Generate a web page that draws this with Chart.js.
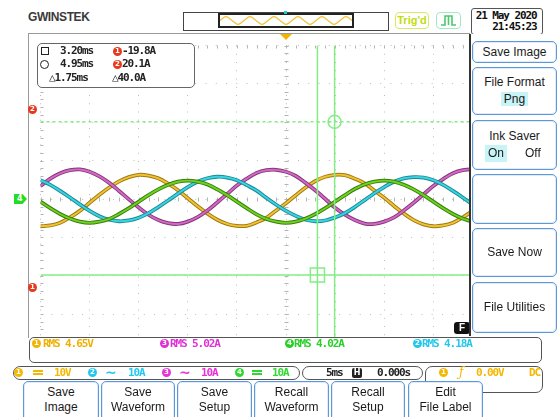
<!DOCTYPE html>
<html>
<head>
<meta charset="utf-8">
<script src="https://cdn.jsdelivr.net/npm/chart.js@4.4.0/dist/chart.umd.min.js"></script>
<style>
  body { margin:0; width:557px; height:417px; background:#fff; position:relative; overflow:hidden;
         font-family:"Liberation Sans", Arial, sans-serif; }
  .a { position:absolute; }
  .t { position:absolute; white-space:nowrap; line-height:14px; }
  .m { font-family:"DejaVu Sans Mono", monospace; font-size:11px; letter-spacing:-1.1px; font-weight:bold; }
  .dot { position:absolute; width:9px; height:9px; border-radius:50%; color:#fff; text-align:center;
         font:bold 7px/9px "DejaVu Sans", sans-serif; }
  .btn { position:absolute; box-sizing:border-box; border:1.5px solid #5b98dc; border-radius:5px; background:#fff;
         box-shadow: inset 0 0 0 1px #e2eaf4; font-size:12px; color:#1a1a1a; text-align:center;
         display:flex; flex-direction:column; align-items:center; justify-content:center; line-height:17px; }
  .low { justify-content:flex-start; padding-top:3px; line-height:15px; border-radius:5px 5px 0 0; }
  .hl { background:#c8f3f7; padding:0 3px; }
  .seg { position:absolute; box-sizing:border-box; border:1.2px solid #555; border-radius:7px; }
  .dc { position:absolute; width:10px; height:1px; border-top:2px solid; border-bottom:2px dashed; }
</style>
</head>
<body>

<!-- barra de cima -->
<div class="t" style="left:28px;top:10px;font:bold 12px 'Liberation Sans',sans-serif;letter-spacing:-0.4px;color:#3a3a3a;">GWINSTEK</div>
<div class="a" style="left:183px;top:12px;width:204px;height:17px;border:1px solid #444;"></div>
<div class="a" style="left:218px;top:13px;width:132px;height:11px;border:2px solid #222;background:#fff;">
  <canvas id="overview" width="132" height="11"></canvas>
</div>
<div class="a" style="left:284px;top:11px;width:3px;height:3px;background:#20c8e0;"></div>
<div class="a" style="left:395px;top:12px;width:32px;height:15px;border:1.5px solid #d6ec62;border-radius:4px;
     color:#c2dc10;font:bold 11px/15px 'Liberation Sans',sans-serif;text-align:center;">Trig'd</div>
<div class="a" style="left:436px;top:12px;width:23px;height:15px;border:1.5px solid #a4e8c4;border-radius:4px;">
  <svg width="23" height="15"><path d="M4 12 H8 V3 H15 V12 H19 M11.5 3 V12" stroke="#4cc870" stroke-width="1.6" fill="none"/></svg>
</div>
<div class="a m" style="left:471px;top:8px;width:70px;height:23px;border:1.5px solid #555;border-radius:3px;
     text-align:right;line-height:10.5px;padding-top:2px;box-sizing:content-box;color:#111;">21 May 2020&nbsp;<br>21:45:23&nbsp;</div>

<!-- tela do osciloscopio -->
<div class="a" style="left:28px;top:33px;width:441px;height:304px;border-left:1px solid #9a9a9a;border-top:1px solid #9a9a9a;"></div>
<canvas id="scope" class="a" style="left:29px;top:34px;" width="514" height="330"></canvas>

<!-- marcadores -->
<div class="a" style="left:280px;top:34px;width:0;height:0;border-left:6px solid transparent;border-right:6px solid transparent;border-top:6px solid #f2b400;"></div>
<div class="dot" style="left:28px;top:105px;background:#e8381c;">2</div>
<div class="dot" style="left:28px;top:283px;background:#e8381c;">1</div>
<div class="a" style="left:14px;top:194px;width:13px;height:10px;background:#22dd22;color:#fff;font:bold 8px/10px 'DejaVu Sans',sans-serif;
     text-indent:3px;clip-path:polygon(0 0,65% 0,100% 50%,65% 100%,0 100%);">4</div>
<div class="a" style="left:454px;top:322px;width:16px;height:12px;background:#111;border-radius:3px;color:#fff;
     font:bold 10px/12px 'Liberation Sans',sans-serif;text-align:center;">F</div>

<!-- leitura dos cursores -->
<div class="a" style="left:37px;top:43px;width:156px;height:43px;border:1.5px solid #666;border-radius:5px;background:#fff;"></div>
<div class="a" style="left:41px;top:47px;width:6px;height:6px;border:1.2px solid #222;"></div>
<div class="t m" style="left:60px;top:44px;color:#222;">3.20ms</div>
<div class="dot" style="left:113px;top:47px;background:#e8381c;">1</div>
<div class="t m" style="left:122px;top:44px;color:#222;">-19.8A</div>
<div class="a" style="left:40px;top:60px;width:7px;height:7px;border:1.2px solid #222;border-radius:50%;"></div>
<div class="t m" style="left:60px;top:57px;color:#222;">4.95ms</div>
<div class="dot" style="left:113px;top:60px;background:#e8381c;">2</div>
<div class="t m" style="left:122px;top:57px;color:#222;">20.1A</div>
<div class="t m" style="left:49px;top:71px;color:#222;">△1.75ms</div>
<div class="t m" style="left:112px;top:71px;color:#222;">△40.0A</div>

<!-- menu lateral -->
<div class="a" style="left:469px;top:34px;width:88px;height:302px;background:#fff;border-left:2px solid #333;box-sizing:border-box;"></div>
<div class="btn" style="left:472px;top:41px;width:85px;height:22px;">Save Image</div>
<div class="btn" style="left:472px;top:67px;width:85px;height:48px;">
  <div>File Format</div><div><span class="hl">Png</span></div>
</div>
<div class="btn" style="left:472px;top:120px;width:85px;height:50px;">
  <div>Ink Saver</div>
  <div style="position:relative;width:100%;height:17px;"><span class="hl" style="position:absolute;left:12px;">On</span><span style="position:absolute;left:52px;">Off</span></div>
</div>
<div class="btn" style="left:472px;top:174px;width:85px;height:50px;"></div>
<div class="btn" style="left:472px;top:228px;width:85px;height:49px;">Save Now</div>
<div class="btn" style="left:472px;top:282px;width:85px;height:51px;">File Utilities</div>

<!-- medidas -->
<div class="a" style="left:29px;top:337px;width:511px;height:24px;border:1.5px solid #555;border-radius:5px;background:#fff;"></div>
<div class="dot" style="left:32px;top:339px;background:#f2b400;">1</div>
<div class="t m" style="left:43px;top:337px;color:#eeb000;">RMS 4.65V</div>
<div class="dot" style="left:160px;top:339px;background:#e030d8;">3</div>
<div class="t m" style="left:170px;top:337px;color:#e030d8;">RMS 5.02A</div>
<div class="dot" style="left:285px;top:339px;background:#28d028;">4</div>
<div class="t m" style="left:294px;top:337px;color:#28d028;">RMS 4.02A</div>
<div class="dot" style="left:413px;top:339px;background:#22c8ec;">2</div>
<div class="t m" style="left:422px;top:337px;color:#22c8ec;">RMS 4.18A</div>

<!-- barra de status -->
<div class="seg" style="left:13px;top:366px;width:287px;height:14px;background:#fff;"></div>
<div class="seg" style="left:302px;top:366px;width:121px;height:14px;background:#fff;"></div>
<div class="seg" style="left:425px;top:366px;width:118px;height:27px;background:#fff;border-radius:7px;"></div>
<div class="dot" style="left:14px;top:368px;background:#f5b800;">1</div>
<div class="dc" style="left:33px;top:370px;color:#f5b800;"></div>
<div class="t m" style="left:54px;top:366px;color:#f5b800;">10V</div>
<div class="dot" style="left:88px;top:368px;background:#20c8f0;">2</div>
<div class="t" style="left:105px;top:365px;color:#20c8f0;font:bold 14px/14px 'DejaVu Sans',sans-serif;">~</div>
<div class="t m" style="left:128px;top:366px;color:#20c8f0;">10A</div>
<div class="dot" style="left:162px;top:368px;background:#e830d8;">3</div>
<div class="t" style="left:179px;top:365px;color:#e830d8;font:bold 14px/14px 'DejaVu Sans',sans-serif;">~</div>
<div class="t m" style="left:201px;top:366px;color:#e830d8;">10A</div>
<div class="dot" style="left:235px;top:368px;background:#30d830;">4</div>
<div class="dc" style="left:252px;top:370px;color:#30d830;"></div>
<div class="t m" style="left:272px;top:366px;color:#30d830;">10A</div>
<div class="t m" style="left:326px;top:366px;color:#222;">5ms</div>
<div class="a" style="left:352px;top:368px;width:10px;height:10px;background:#222;border-radius:2px;color:#fff;font:bold 8px/10px 'DejaVu Sans',sans-serif;text-align:center;">H</div>
<div class="t m" style="left:377px;top:366px;color:#222;">0.000s</div>
<div class="dot" style="left:439px;top:368px;background:#f5b800;">1</div>
<div class="t" style="left:459px;top:365px;color:#f5b800;font:italic 12px/14px 'DejaVu Serif',serif;">ƒ</div>
<div class="t m" style="left:476px;top:366px;color:#f5b800;">0.00V</div>
<div class="t m" style="left:529px;top:366px;color:#f5b800;">DC</div>

<!-- botoes de baixo -->
<div class="btn low" style="left:23px;top:381px;width:76px;height:40px;"><div>Save</div><div>Image</div></div>
<div class="btn low" style="left:101px;top:381px;width:74px;height:40px;"><div>Save</div><div>Waveform</div></div>
<div class="btn low" style="left:177px;top:381px;width:75px;height:40px;"><div>Save</div><div>Setup</div></div>
<div class="btn low" style="left:254px;top:381px;width:75px;height:40px;"><div>Recall</div><div>Waveform</div></div>
<div class="btn low" style="left:331px;top:381px;width:74px;height:40px;"><div>Recall</div><div>Setup</div></div>
<div class="btn low" style="left:408px;top:381px;width:75px;height:40px;"><div>Edit</div><div>File Label</div></div>

<script>
// eixo do tempo em ms (5 ms/div, trigger no centro)
const tMs = [-25,-24,-23,-22,-21,-20,-19,-18,-17,-16,-15,-14,-13,-12,-11,-10,-9,-8,-7,-6,
             -5,-4,-3,-2,-1,0,1,2,3,4,5,6,7,8,9,10,11,12,13,14,
             15,16,17,18,19,20,21,22,23,24,25];

// CH1 (V) amarelo
const ch1Volt = [-7.1,-6.9,-6.2,-4.8,-3.1,-1.0,1.1,3.0,4.6,5.7,6.3,6.1,5.4,4.0,2.3,0.2,-1.9,-3.8,-5.4,-6.5,
                 -7.0,-7.0,-6.1,-4.9,-3.0,-1.1,1.0,3.0,4.7,5.8,6.3,6.2,5.3,4.1,2.2,0.3,-1.8,-3.8,-5.5,-6.6,
                 -7.1,-6.9,-6.2,-4.8,-3.1,-1.0,1.1,3.0,4.6,5.7,6.3];
// CH2 (A) ciano
const ch2Amp = [4.9,3.7,2.1,0.4,-1.4,-3.1,-4.5,-5.4,-5.8,-5.6,-4.9,-3.7,-2.1,-0.4,1.4,3.1,4.5,5.4,5.8,5.6,
                4.9,3.6,2.2,0.3,-1.5,-3.1,-4.4,-5.4,-5.8,-5.6,-4.8,-3.7,-2.1,-0.3,1.5,3.1,4.5,5.4,5.7,5.6,
                4.9,3.7,2.1,0.4,-1.4,-3.1,-4.5,-5.4,-5.8,-5.6,-4.9];
// CH3 (A) magenta
const ch3Amp = [3.4,5.3,6.7,7.5,7.7,7.1,5.9,4.2,2.1,-0.1,-2.2,-4.1,-5.5,-6.3,-6.5,-5.9,-4.7,-3.0,-0.9,1.3,
                3.5,5.3,6.8,7.5,7.6,7.1,6.0,4.2,2.2,0.0,-2.3,-4.1,-5.5,-6.4,-6.5,-5.9,-4.8,-3.0,-1.0,1.2,
                3.4,5.2,6.7,7.5,7.7,7.1,5.9,4.2,2.1,-0.1,-2.2];
// CH4 (A) verde
const ch4Amp = [-0.7,-2.4,-3.9,-5.1,-5.9,-6.2,-5.9,-5.2,-3.9,-2.4,-0.7,1.0,2.5,3.7,4.5,4.8,4.5,3.8,2.5,1.0,
                -0.7,-2.4,-4.0,-5.2,-5.9,-6.2,-5.9,-5.1,-3.9,-2.4,-0.7,1.0,2.6,3.8,4.5,4.8,4.5,3.7,2.5,1.0,
                -0.7,-2.4,-3.9,-5.1,-5.9,-6.2,-5.9,-5.1,-3.9,-2.4,-0.7];

// cursores: tempo (ms) e amplitude (A)
const cursorT = [3.20, 4.95];
const cursorA = [-19.8, 20.1];

// forma de onda da memoria inteira (barra de cima)
const overviewWave = [0.0,0.9,0.0,-0.9,0.0,0.9,0.0,-0.9,0.0,0.9,0.0,-0.9,0.0,0.9,0.0,-0.9,0.0,0.9,0.0,-0.9,0.0,0.9,0.0];

function pts(ys) { return tMs.map((t, i) => ({ x: t, y: ys[i] })); }

// cada canal: linha clara por cima de uma borda escura
function canal(ys, claro, escuro) {
  return [
    { data: pts(ys), borderColor: claro, borderWidth: 1.9, pointRadius: 0, tension: 0.35 },
    { data: pts(ys), borderColor: escuro, borderWidth: 3.8, pointRadius: 0, tension: 0.35 }
  ];
}

const verdeCursor = '#84ec84';
const cursores = [
  { data: [{ x: cursorT[1], y: cursorA[1] }], pointStyle: 'circle', pointRadius: 6.5, pointBorderColor: verdeCursor,
    pointBorderWidth: 1.5, pointBackgroundColor: 'rgba(0,0,0,0)', showLine: false },
  { data: [{ x: cursorT[0], y: cursorA[0] }], pointStyle: 'rect', pointRadius: 10, pointBorderColor: verdeCursor,
    pointBorderWidth: 1.5, pointBackgroundColor: 'rgba(0,0,0,0)', showLine: false },
  { data: [{ x: cursorT[0], y: -40 }, { x: cursorT[0], y: 40 }], borderColor: verdeCursor, borderWidth: 1.5, pointRadius: 0 },
  { data: [{ x: cursorT[1], y: -40 }, { x: cursorT[1], y: 40 }], borderColor: verdeCursor, borderWidth: 1.5, pointRadius: 0 },
  { data: [{ x: -25, y: cursorA[0] }, { x: 25, y: cursorA[0] }], borderColor: verdeCursor, borderWidth: 1.5, pointRadius: 0 },
  { data: [{ x: -25, y: cursorA[1] }, { x: 25, y: cursorA[1] }], borderColor: verdeCursor, borderWidth: 1.5, pointRadius: 0, borderDash: [3, 3] }
];

// marquinhas nas bordas e no centro da grade
const marcasGrade = {
  id: 'marcasGrade',
  beforeDatasetsDraw(chart) {
    const { ctx, chartArea: a, scales: { x, y } } = chart;
    const cx = Math.round(x.getPixelForValue(0)) + 0.5;
    const cy = Math.round(y.getPixelForValue(0)) + 0.5;
    ctx.save();
    ctx.strokeStyle = '#b4b4b4';
    ctx.lineWidth = 1;
    ctx.beginPath();
    for (let t = -25; t <= 25; t += 1) {
      const px = Math.round(x.getPixelForValue(t)) + 0.5;
      ctx.moveTo(px, a.top); ctx.lineTo(px, a.top + 3);
      ctx.moveTo(px, cy - 2); ctx.lineTo(px, cy + 2);
    }
    for (let v = -40; v <= 40; v += 2) {
      const py = Math.round(y.getPixelForValue(v)) + 0.5;
      ctx.moveTo(a.left, py); ctx.lineTo(a.left + 3, py);
      ctx.moveTo(cx - 2, py); ctx.lineTo(cx + 2, py);
    }
    ctx.stroke();
    ctx.restore();
  }
};

new Chart(document.getElementById('scope'), {
  type: 'line',
  data: {
    datasets: [
      ...cursores,
      ...canal(ch4Amp, '#6cd41e', '#3a7c10'),
      ...canal(ch2Amp, '#38d4e4', '#1d8892'),
      ...canal(ch3Amp, '#d865c8', '#7f3b76'),
      ...canal(ch1Volt, '#f2c230', '#9c7a14')
    ]
  },
  options: {
    responsive: false,
    animation: false,
    devicePixelRatio: 1,
    layout: { padding: 0 },
    plugins: { legend: { display: false }, tooltip: { enabled: false } },
    scales: {
      x: { type: 'linear', min: -25, max: 25,
           ticks: { display: false, stepSize: 5 },
           grid: { color: '#bdbdbd', lineWidth: 1, drawTicks: false },
           border: { display: false, dash: [1, 7.25] } },
      y: { type: 'linear', min: -40, max: 40,
           ticks: { display: false, stepSize: 10 },
           grid: { color: '#bdbdbd', lineWidth: 1, drawTicks: false },
           border: { display: false, dash: [1, 9.28] } }
    }
  },
  plugins: [marcasGrade]
});

new Chart(document.getElementById('overview'), {
  type: 'line',
  data: {
    datasets: [{ data: overviewWave.map((v, i) => ({ x: i, y: v })), borderColor: '#f2c230',
                 borderWidth: 1.2, pointRadius: 0, tension: 0.4 }]
  },
  options: {
    responsive: false, animation: false, devicePixelRatio: 1,
    layout: { padding: 0 },
    plugins: { legend: { display: false }, tooltip: { enabled: false } },
    scales: { x: { type: 'linear', display: false, min: 0, max: 22 },
              y: { display: false, min: -1.3, max: 1.3 } }
  }
});
</script>
</body>
</html>
